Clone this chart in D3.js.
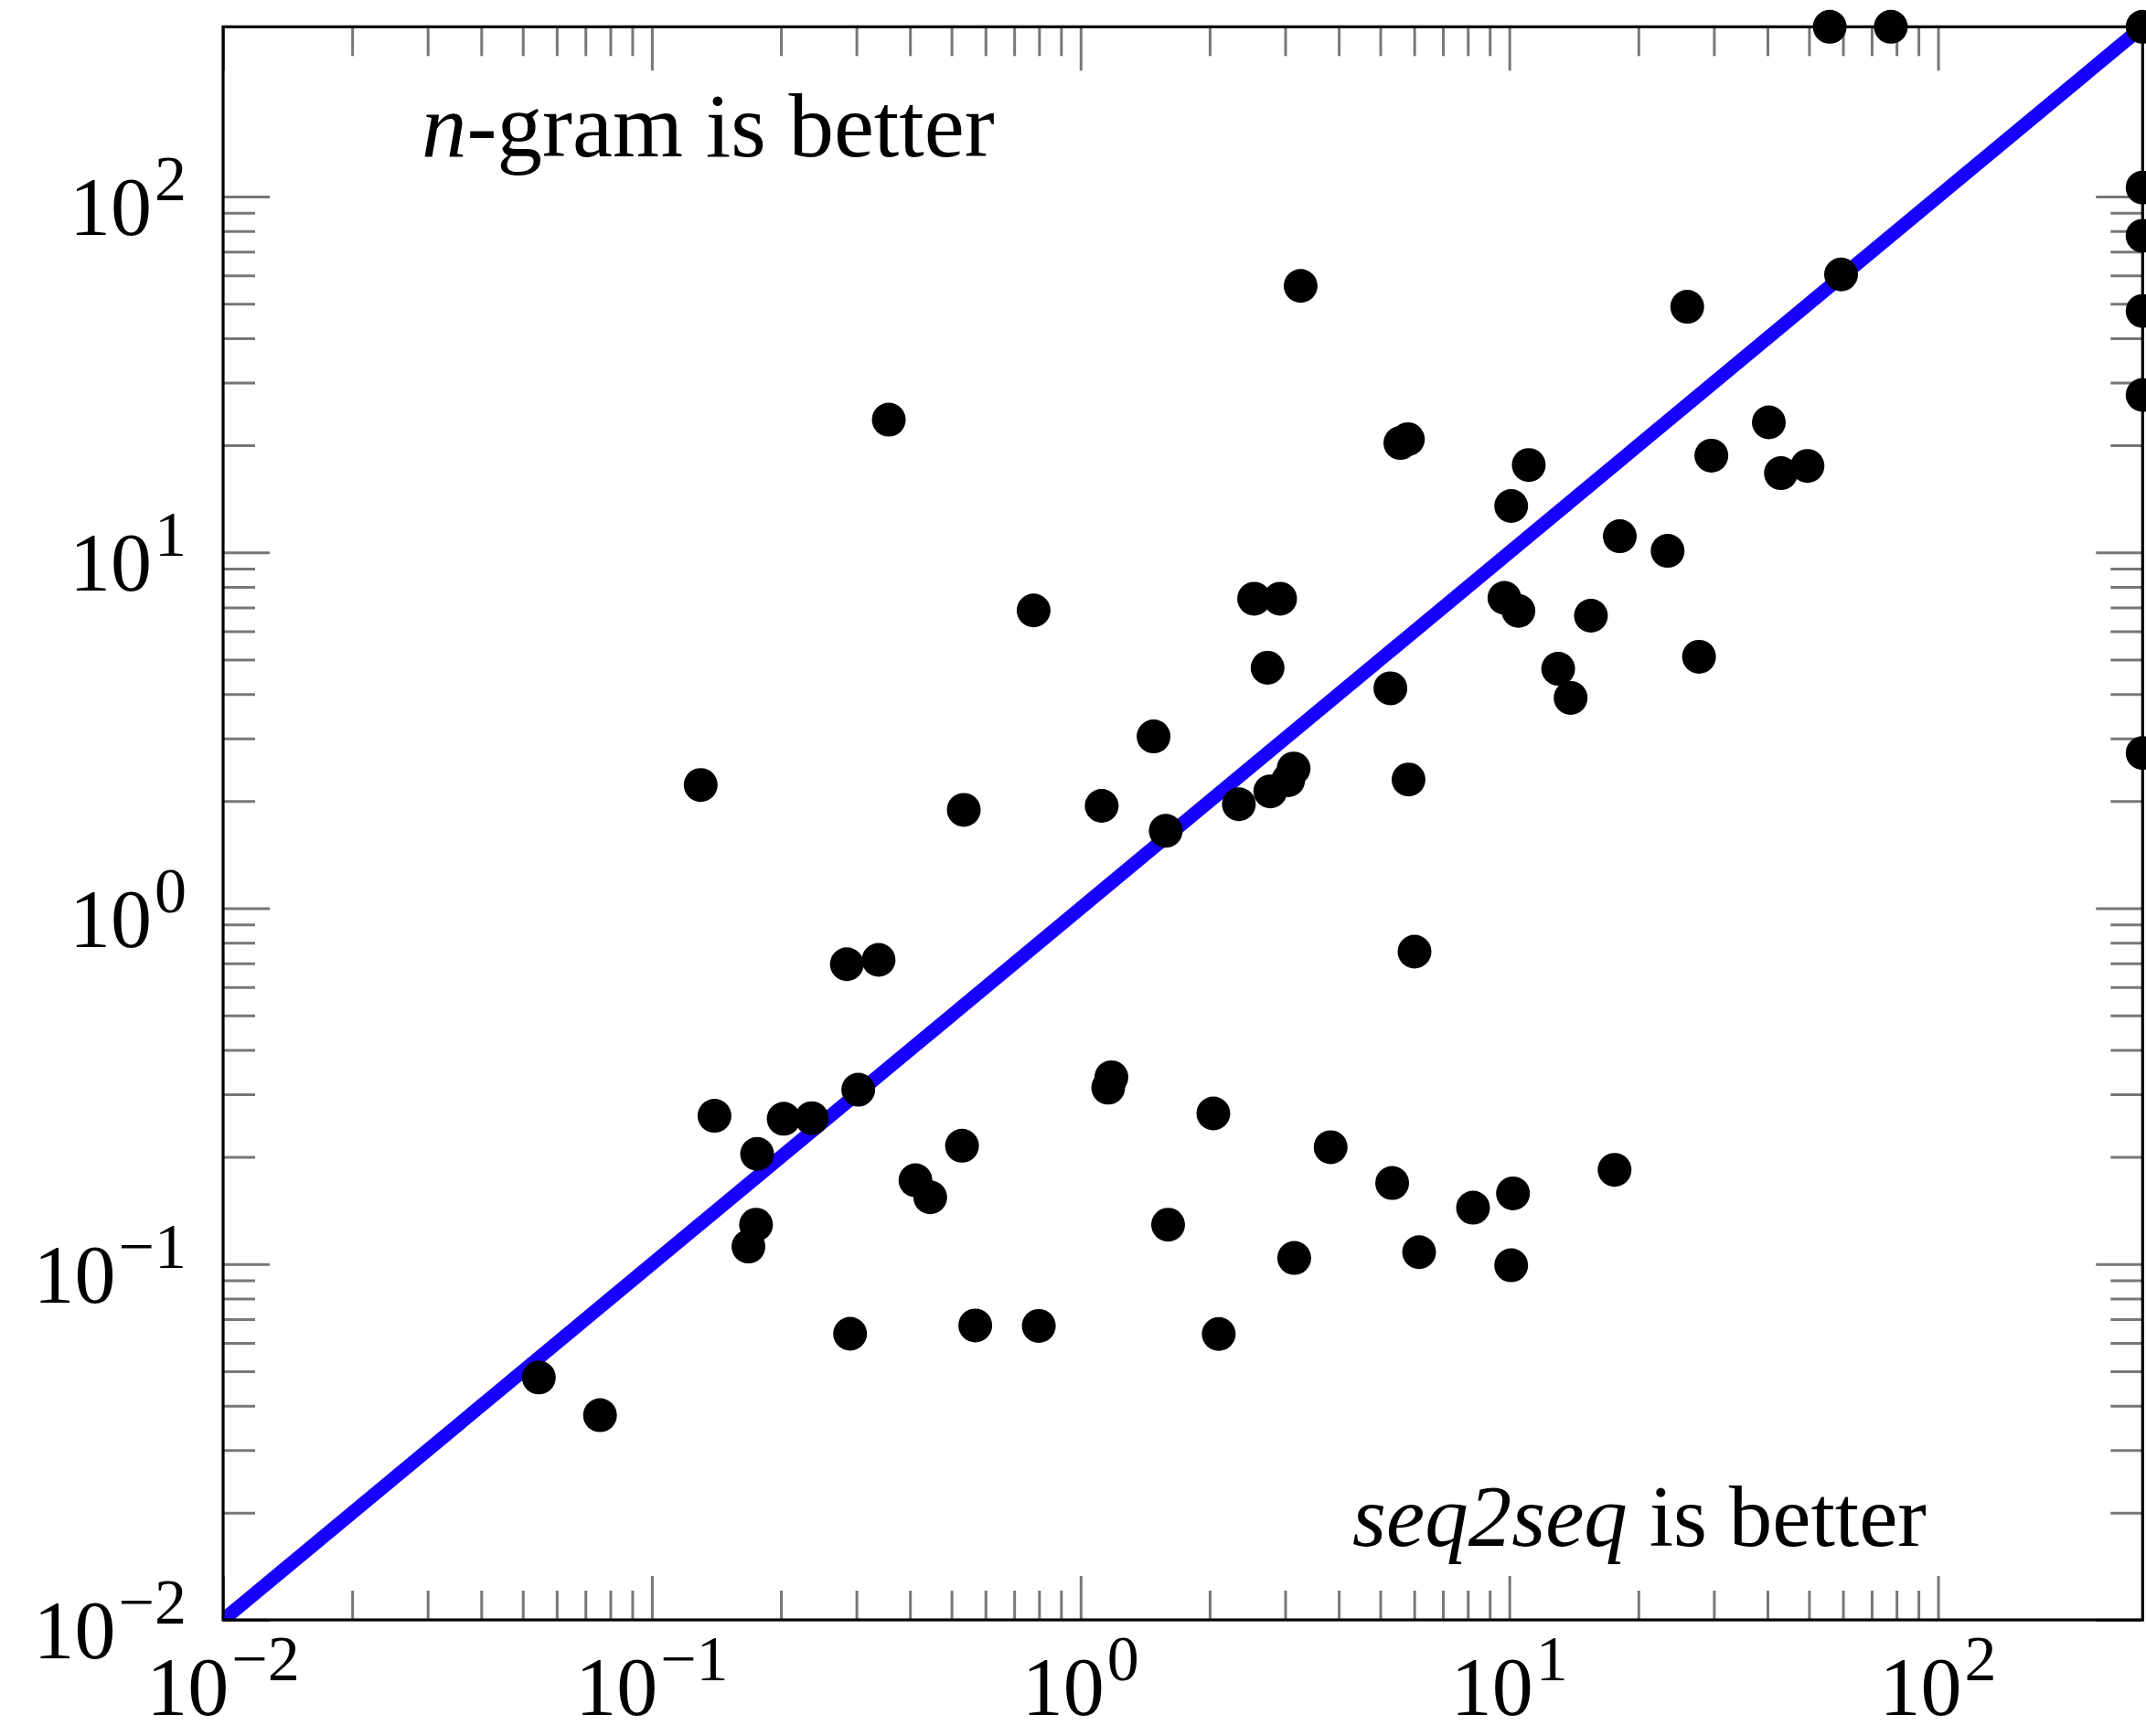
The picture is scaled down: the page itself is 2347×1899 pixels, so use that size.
<!DOCTYPE html>
<html>
<head>
<meta charset="utf-8">
<script src="https://cdn.jsdelivr.net/npm/d3@7"></script>
<style>
  html, body { margin: 0; padding: 0; background: #fff; }
  svg { display: block; }
</style>
</head>
<body>
<svg id="chart" width="2347" height="1899"></svg>
<script>
// ---- data ----
const xValues = [0.0545, 0.0757, 0.130, 0.140, 0.168, 0.175, 0.176, 0.203, 0.236, 0.285,
                 0.290, 0.303, 0.338, 0.357, 0.412, 0.446, 0.529, 0.534, 0.568, 0.777,
                 0.799, 1.12, 1.16, 1.18, 1.48, 1.58, 1.60, 2.04, 2.10, 2.34,
                 2.54, 2.73, 2.77, 2.92, 3.05, 3.14, 3.15, 3.26, 3.83, 5.28,
                 5.33, 5.57, 5.80, 5.82, 6.01, 6.16, 8.23, 9.74, 10.1, 10.2,
                 10.1, 10.5, 11.1, 13.0, 13.9, 15.5, 17.6, 18.1, 23.4, 26.0,
                 27.7, 29.6, 40.3, 43.0, 49.6, 55.9, 59.4, 77.6, 300, 300,
                 300, 300, 300, 300];
const yValues = [0.048, 0.0376, 2.22, 0.261, 0.112, 0.129, 0.204, 0.256, 0.257, 0.696,
                 0.0637, 0.309, 0.716, 23.6, 0.172, 0.154, 0.215, 1.89, 0.0672, 6.87,
                 0.0670, 1.94, 0.313, 0.335, 3.04, 1.65, 0.129, 0.265, 0.0636, 1.96,
                 7.41, 4.74, 2.13, 7.41, 2.29, 2.47, 0.104, 56.1, 0.213, 4.15,
                 0.169, 20.3, 20.8, 2.30, 0.755, 0.108, 0.144, 7.45, 13.5, 0.158,
                 0.0992, 6.85, 17.6, 4.71, 3.90, 6.64, 0.184, 11.1, 10.1, 49.0,
                 5.09, 18.7, 23.2, 16.7, 17.5, 300, 60.4, 300, 300, 106,
                 77.6, 47.7, 27.7, 2.73];
const axisDomain = [0.01, 300];
const majorTicks = [0.01, 0.1, 1, 10, 100];
const tickExponents = ["\u22122", "\u22121", "0", "1", "2"];
const minorMultipliers = [2, 3, 4, 5, 6, 7, 8, 9];
const annotations = [
  { italic: "n", rest: "-gram is better", pos: "topleft", size: 99 },
  { italic: "seq2seq", rest: " is better", pos: "bottomright", size: 95 }
];

// ---- layout ----
const L = 244, R = 2343.3, T = 29.3, B = 1772;
const svg = d3.select("#chart");
const x = d3.scaleLog().domain(axisDomain).range([L, R]);
const y = d3.scaleLog().domain(axisDomain).range([B, T]);

const minorTicks = [];
majorTicks.slice(0, 4).forEach(d => minorMultipliers.forEach(m => minorTicks.push(d * m)));

function styleTicks(g) {
  g.select(".domain").remove();
  g.selectAll("text").remove();
  g.selectAll("line").attr("stroke", "#777").attr("stroke-width", 3);
}

// ticks inside on all four sides
[[majorTicks, 48], [minorTicks, 32]].forEach(([vals, len]) => {
  svg.append("g").attr("transform", `translate(0,${B})`)
    .call(d3.axisBottom(x).tickValues(vals).tickSize(-len).tickFormat("")).call(styleTicks);
  svg.append("g").attr("transform", `translate(0,${T})`)
    .call(d3.axisTop(x).tickValues(vals).tickSize(-len).tickFormat("")).call(styleTicks);
});
[[majorTicks, 51], [minorTicks, 35]].forEach(([vals, len]) => {
  svg.append("g").attr("transform", `translate(${L},0)`)
    .call(d3.axisLeft(y).tickValues(vals).tickSize(-len).tickFormat("")).call(styleTicks);
  svg.append("g").attr("transform", `translate(${R},0)`)
    .call(d3.axisRight(y).tickValues(vals).tickSize(-len).tickFormat("")).call(styleTicks);
});

// clip for diagonal
svg.append("defs").append("clipPath").attr("id", "plotclip")
  .append("rect").attr("x", L).attr("y", T).attr("width", R - L).attr("height", B - T);

// diagonal y = x
svg.append("line")
  .attr("clip-path", "url(#plotclip)")
  .attr("x1", x(axisDomain[0])).attr("y1", y(axisDomain[0]))
  .attr("x2", x(axisDomain[1])).attr("y2", y(axisDomain[1]))
  .attr("stroke", "#1800ff").attr("stroke-width", 15);

// frame
svg.append("rect").attr("x", L).attr("y", T).attr("width", R - L).attr("height", B - T)
  .attr("fill", "none").attr("stroke", "#000").attr("stroke-width", 3.2);

// points
svg.append("g").selectAll("circle").data(xValues.map((v, i) => [v, yValues[i]]))
  .join("circle")
  .attr("cx", d => x(d[0])).attr("cy", d => y(d[1])).attr("r", 18.5)
  .attr("fill", "#000");

// tick labels
const fontMain = "'Liberation Serif', 'DejaVu Serif', serif";
function label(sel, exp) {
  sel.append("tspan").text("10");
  sel.append("tspan").attr("dx", 3).attr("dy", -38).attr("font-size", 70).text(exp);
}
majorTicks.forEach((v, i) => {
  svg.append("text").attr("x", x(v)).attr("y", 1876).attr("text-anchor", "middle")
    .attr("font-family", fontMain).attr("font-size", 90).attr("fill", "#000")
    .call(label, tickExponents[i]);
  svg.append("text").attr("x", 204).attr("y", y(v) + 42).attr("text-anchor", "end")
    .attr("font-family", fontMain).attr("font-size", 90).attr("fill", "#000")
    .call(label, tickExponents[i]);
});

// annotations
annotations.forEach(a => {
  const t = svg.append("text").attr("font-family", fontMain).attr("font-size", a.size).attr("fill", "#000");
  if (a.pos === "topleft") t.attr("x", 461).attr("y", 171).attr("text-anchor", "start");
  else t.attr("x", 2107).attr("y", 1691).attr("text-anchor", "end");
  t.append("tspan").attr("font-style", "italic").text(a.italic);
  t.append("tspan").text(a.rest);
});
</script>
</body>
</html>
